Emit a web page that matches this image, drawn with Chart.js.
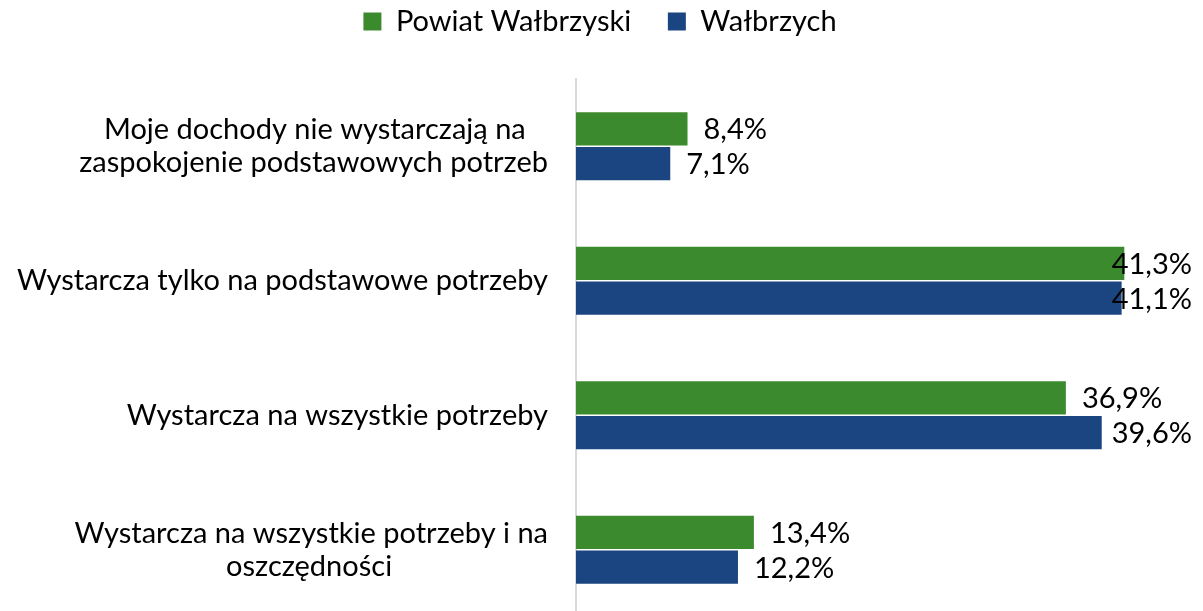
<!DOCTYPE html>
<html>
<head>
<meta charset="utf-8">
<script src="https://cdn.jsdelivr.net/npm/chart.js@4.4.1/dist/chart.umd.min.js"></script>
<style>
  html, body { margin: 0; padding: 0; overflow: hidden; background: #fff; }
  canvas { display: block; }
</style>
</head>
<body>
<canvas id="incomeChart" width="1203" height="620" style="width:1203px;height:620px"></canvas>
<script>
// Categories (multi-line labels) and series values in percent
const categories = [
    ['Moje dochody nie wystarczają na', 'zaspokojenie podstawowych potrzeb'],
    'Wystarcza tylko na podstawowe potrzeby',
    'Wystarcza na wszystkie potrzeby',
    ['Wystarcza na wszystkie potrzeby i na', 'oszczędności']
];
const powiatValues = [8.4, 41.3, 36.9, 13.4];
const walbrzychValues = [7.1, 41.1, 39.6, 12.2];
const seriesNames = ['Powiat Wałbrzyski', 'Wałbrzych'];

const FONT = 'Lato';
const FONT_SIZE = 29;

// Formats 8.4 -> "8,4%"
function fmt(v) {
    return v.toFixed(1).replace('.', ',') + '%';
}

// Centers the lines of a multi-line label inside a right-aligned block
// by padding shorter lines with trailing non-breaking spaces
const measureCtx = document.createElement('canvas').getContext('2d');
function centerLines(label) {
    if (!Array.isArray(label)) return label;
    measureCtx.font = FONT_SIZE + 'px ' + FONT;
    const sp = measureCtx.measureText('\u00a0').width || 1;
    const widths = label.map(l => measureCtx.measureText(l).width);
    const maxW = Math.max(...widths);
    return label.map((l, i) => l + '\u00a0'.repeat(Math.round((maxW - widths[i]) / 2 / sp)));
}

// Draws value labels at the end of each bar
const valueLabels = {
    id: 'valueLabels',
    afterDatasetsDraw(chart) {
        const ctx = chart.ctx;
        const area = chart.chartArea;
        ctx.save();
        ctx.font = FONT_SIZE + 'px ' + FONT;
        ctx.fillStyle = '#000';
        ctx.textBaseline = 'middle';
        ctx.textAlign = 'left';
        chart.data.datasets.forEach((ds, i) => {
            chart.getDatasetMeta(i).data.forEach((bar, j) => {
                const txt = fmt(ds.data[j]);
                const w = ctx.measureText(txt).width;
                let x = bar.x + 16;
                if (x + w > area.right) x = area.right - w;
                ctx.fillText(txt, x, bar.y + 1);
            });
        });
        ctx.restore();
    }
};

// Fixed legend height so the plot starts lower
const legendGap = {
    id: 'legendGap',
    beforeInit(chart) {
        const origFit = chart.legend.fit;
        chart.legend.fit = function () {
            origFit.bind(chart.legend)();
            this.height = 79;
        };
    }
};

const ctx = document.getElementById('incomeChart').getContext('2d');
const incomeChart = new Chart(ctx, {
    type: 'bar',
    data: {
        labels: categories,
        datasets: [{
            label: seriesNames[0],
            data: powiatValues,
            backgroundColor: '#3c8a2e'
        },
        {
            label: seriesNames[1],
            data: walbrzychValues,
            backgroundColor: '#1a4580'
        }]
    },
    options: {
        indexAxis: 'y',
        responsive: false,
        animation: false,
        categoryPercentage: 0.52,
        barPercentage: 0.95,
        layout: { padding: { left: 8, right: 11, top: 0, bottom: 3 } },
        scales: {
            x: {
                display: false,
                min: 0,
                max: 46.4
            },
            y: {
                grid: { display: false, drawTicks: false },
                border: { display: true, color: '#d9d9d9', width: 2 },
                ticks: {
                    color: '#000',
                    padding: 28,
                    font: { family: FONT, size: FONT_SIZE, lineHeight: 1.14 },
                    callback: function (value) {
                        return centerLines(categories[value]);
                    }
                },
                afterFit(scale) {
                    scale.width = 568;
                    // multi-line labels should not shrink the plot
                    scale.paddingTop = 0;
                    scale.paddingBottom = 0;
                }
            }
        },
        plugins: {
            legend: {
                position: 'top',
                labels: {
                    color: '#000',
                    boxWidth: 18,
                    boxHeight: 18,
                    padding: 7,
                    font: { family: FONT, size: FONT_SIZE },
                    generateLabels(chart) {
                        const items = Chart.defaults.plugins.legend.labels.generateLabels(chart);
                        // widen the gap after the first entry
                        items[0].text = items[0].text + '\u00a0\u00a0\u00a0\u00a0';
                        items.forEach(it => { it.lineWidth = 0; });
                        return items;
                    }
                }
            },
            tooltip: { enabled: false }
        }
    },
    plugins: [valueLabels, legendGap]
});
</script>
</body>
</html>
